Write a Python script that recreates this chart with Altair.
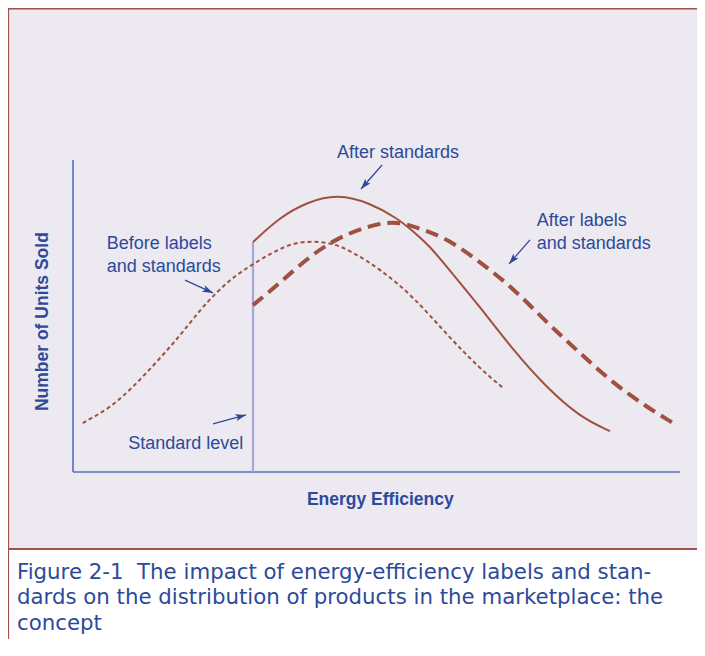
import math
import altair as alt
import pandas as pd

# ---- data ----
before_x = [1.6, 6.1, 9.9, 13.8, 17.6, 20.9, 23.7, 26.4, 29.7, 33.0, 36.2, 39.5, 42.8, 46.1, 50.6, 56.0, 61.6, 67.1, 70.7]
before_y = [15.7, 20.5, 27.2, 35.3, 43.6, 51.9, 57.7, 62.5, 66.7, 70.5, 73.4, 74.0, 73.4, 70.5, 65.0, 56.4, 44.0, 33.0, 27.2]

std_x = [29.65, 34.1, 38.55, 43.66, 48.93, 53.38, 56.01, 58.81, 61.61, 67.05, 72.49, 78.09, 83.53, 88.47]
std_y = [73.7, 81.7, 86.5, 89.1, 86.2, 81.4, 77.2, 72.3, 65.7, 52.9, 39.1, 26.9, 17.6, 13.1]

lab_x = [29.65, 34.1, 39.54, 45.14, 50.58, 53.38, 56.01, 61.61, 67.05, 72.49, 78.09, 83.53, 88.96, 94.56, 98.85]
lab_y = [53.5, 60.6, 70.2, 76.6, 79.8, 80.1, 78.8, 75.0, 67.3, 59.0, 47.8, 38.1, 28.5, 20.8, 15.7]

standard_level = 29.65
standard_top = 73.7

# annotation arrows: start x, start y, end x, end y
arrow_x1 = [50.91, 18.45, 75.29, 23.06]
arrow_y1 = [98.4, 61.5, 74.4, 15.4]
arrow_x2 = [47.45, 23.06, 71.83, 28.50]
arrow_y2 = [90.7, 57.4, 66.7, 18.3]

label_text = [["After standards"], ["Before labels", "and standards"], ["After labels", "and standards"], ["Standard level"]]
label_x = [53.54, 5.55, 76.39, 28.06]
label_y = [100.6, 71.5, 78.85, 7.28]
label_align = ["center", "left", "left", "right"]

caption = ["Figure 2-1\u00a0 The impact of energy-efficiency labels and stan-",
           "dards on the distribution of products in the marketplace: the",
           "concept"]

X_DOMAIN = [-10.71, 102.80]
Y_DOMAIN = [-24.68, 148.72]
W, H = 689, 541

BROWN = "#A0503F"
BORDER = "#A0524A"
BLUE = "#2D4A9A"
BG = "#ECE9F1"

xs = alt.Scale(domain=X_DOMAIN, nice=False, zero=False)
ys = alt.Scale(domain=Y_DOMAIN, nice=False, zero=False)


def X(f):
    return alt.X(f, type="quantitative", scale=xs, axis=None)


def Y(f):
    return alt.Y(f, type="quantitative", scale=ys, axis=None)


def curve(xv, yv, **kw):
    df = pd.DataFrame({"x": xv, "y": yv})
    return alt.Chart(df).mark_line(interpolate="basis", color=BROWN, **kw).encode(
        x=X("x"), y=Y("y"), order="x:Q")


before = curve(before_x, before_y, strokeWidth=2, strokeDash=[4, 3])
after_std = curve(std_x, std_y, strokeWidth=2)
after_lab = curve(lab_x, lab_y, strokeWidth=4, strokeDash=[13, 7])

# axes lines
axes_df = pd.DataFrame({
    "x": [0, 0, standard_level],
    "y": [0, 0, 0],
    "x2": [0, 100, standard_level],
    "y2": [100, 0, standard_top],
    "c": ["#6F87C4", "#5470B8", "#A6A6D8"],
    "w": [2, 1.6, 2.2],
})
axes = alt.Chart(axes_df).mark_rule().encode(
    x=X("x"), y=Y("y"), x2="x2", y2="y2",
    color=alt.Color("c:N", scale=None),
    strokeWidth=alt.StrokeWidth("w:Q", scale=None))

# panel borders
bdf = pd.DataFrame({
    "x": [X_DOMAIN[0], X_DOMAIN[0], X_DOMAIN[0]],
    "y": [Y_DOMAIN[1], Y_DOMAIN[0], Y_DOMAIN[1]],
    "x2": [X_DOMAIN[1], X_DOMAIN[1], X_DOMAIN[0]],
    "y2": [Y_DOMAIN[1], Y_DOMAIN[0], -55.0],
    "w": [3, 2.2, 2.2],
})
borders = alt.Chart(bdf).mark_rule(color=BORDER).encode(
    x=X("x"), y=Y("y"), x2="x2", y2="y2",
    strokeWidth=alt.StrokeWidth("w:Q", scale=None))

# arrows
px_per_x = W / (X_DOMAIN[1] - X_DOMAIN[0])
px_per_y = H / (Y_DOMAIN[1] - Y_DOMAIN[0])
angles = []
for a, b, c, d in zip(arrow_x1, arrow_y1, arrow_x2, arrow_y2):
    dx = (c - a) * px_per_x
    dy = -(d - b) * px_per_y
    ang = math.degrees(math.atan2(dx, -dy)) % 360
    angles.append(ang)
adf = pd.DataFrame({"x": arrow_x1, "y": arrow_y1, "x2": arrow_x2, "y2": arrow_y2, "ang": angles})
shafts = alt.Chart(adf).mark_rule(color=BLUE, strokeWidth=1.3).encode(
    x=X("x"), y=Y("y"), x2="x2", y2="y2")
heads = alt.Chart(adf).mark_point(
    shape="M0,0 L0.5,1.5 L0,1.15 L-0.5,1.5 Z", filled=True, color=BLUE, opacity=1, size=200,
    strokeWidth=0).encode(
    x=X("x2"), y=Y("y2"), angle=alt.Angle("ang:Q", scale=None))

# annotation labels
ldf = pd.DataFrame({"t": label_text, "x": label_x, "y": label_y, "al": label_align})
labels = []
for i in range(len(label_text)):
    labels.append(alt.Chart(ldf.iloc[[i]]).mark_text(
        font="Liberation Sans", fontSize=18, color=BLUE, align=label_align[i],
        baseline="alphabetic", lineHeight=23).encode(
        x=X("x"), y=Y("y"), text="t"))

xtitle = alt.Chart(pd.DataFrame({"x": [50.63], "y": [-10.58]})).mark_text(
    text="Energy Efficiency", font="Liberation Sans", fontSize=17.5, fontWeight="bold",
    color=BLUE, align="center", baseline="alphabetic").encode(x=X("x"), y=Y("y"))
ytitle = alt.Chart(pd.DataFrame({"x": [-4.07], "y": [48.2]})).mark_text(
    text="Number of Units Sold", font="Liberation Sans", fontSize=17.5, fontWeight="bold",
    color=BLUE, align="center", baseline="alphabetic", angle=270).encode(x=X("x"), y=Y("y"))

cap = alt.Chart(pd.DataFrame({"x": [-9.23], "y": [-34.29]})).mark_text(
    text=caption, font="DejaVu Sans", fontSize=21.3, color=BLUE, align="left",
    baseline="alphabetic", lineHeight=25.5).encode(x=X("x"), y=Y("y"))

chart = alt.layer(
    axes, before, after_std, after_lab, shafts, heads, *labels, xtitle, ytitle, cap, borders
).properties(
    width=W, height=H,
    autosize=alt.AutoSizeParams(type="none"),
    padding={"left": 0, "top": 0, "right": 0, "bottom": 90},
    background="white",
).configure_view(fill=BG, stroke=None)

chart.save("out.html", embed_options={"renderer": "svg", "actions": False})
